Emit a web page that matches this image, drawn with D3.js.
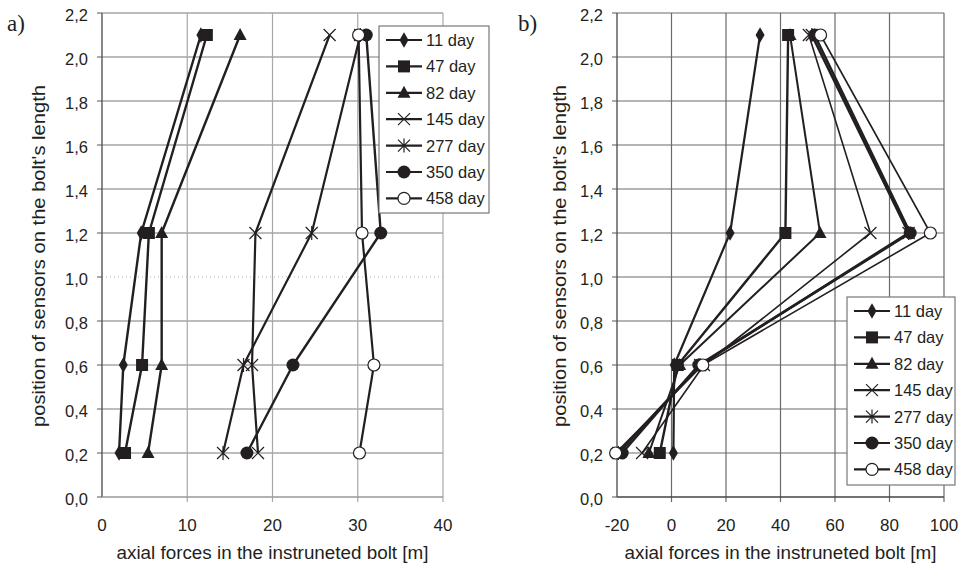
<!DOCTYPE html>
<html>
<head>
<meta charset="utf-8">
<script src="https://cdn.jsdelivr.net/npm/d3@7"></script>
<style>
  body { margin: 0; background: #fff; }
  svg { display: block; }
  text { font-family: "Liberation Sans", Arial, sans-serif; fill: #231f20; }
</style>
</head>
<body>
<script>
// sensor positions along the bolt
var positions = [2.1, 1.2, 0.6, 0.2];
var days = ["11 day", "47 day", "82 day", "145 day", "277 day", "350 day", "458 day"];
var markers = ["diamond", "square", "triangle", "x", "star", "circle", "open"];

// chart a) axial forces, one row per day, in order of positions
var seriesA = [
  [11.6, 4.6, 2.5, 2.0],
  [12.3, 5.5, 4.7, 2.7],
  [16.2, 7.0, 7.0, 5.4],
  [26.7, 18.0, 17.6, 18.3],
  [30.3, 24.6, 16.6, 14.2],
  [31.0, 32.7, 22.4, 17.0],
  [30.1, 30.5, 31.9, 30.2]
];

// chart b)
var seriesB = [
  [32.5, 21.5, 1.0, 0.7],
  [42.8, 41.8, 2.3, -4.3],
  [43.5, 54.5, 3.0, -8.3],
  [50.4, 73.0, 11.9, -10.8],
  [51.5, 87.0, 10.5, -19.5],
  [52.5, 87.6, 10.0, -18.1],
  [54.7, 95.0, 11.5, -20.5]
];

var yTicks = [0, 0.2, 0.4, 0.6, 0.8, 1.0, 1.2, 1.4, 1.6, 1.8, 2.0, 2.2];
var xTicksA = [0, 10, 20, 30, 40];
var xTicksB = [-20, 0, 20, 40, 60, 80, 100];

var ink = "#231f20";
var W = 967, H = 567;

var svg = d3.select("body").append("svg")
    .attr("width", W)
    .attr("height", H);

var y = d3.scaleLinear().domain([0, 2.2]).range([497, 13]);
var fmt = function(v) { return d3.format(".1f")(v).replace(".", ","); };

// draw one marker at (0,0) inside g
function drawMarker(g, type) {
  if (type == "diamond") {
    g.append("path").attr("d", d3.symbol(d3.symbolDiamond, 70)()).attr("fill", ink);
  } else if (type == "square") {
    g.append("rect").attr("x", -6).attr("y", -6).attr("width", 12).attr("height", 12).attr("fill", ink);
  } else if (type == "triangle") {
    g.append("path").attr("d", "M0,-7L6.5,5L-6.5,5Z").attr("fill", ink);
  } else if (type == "x") {
    g.append("path").attr("d", "M-6,-6L6,6M-6,6L6,-6").attr("stroke", ink).attr("stroke-width", 1.2);
  } else if (type == "star") {
    g.append("path").attr("d", "M-6,-6L6,6M-6,6L6,-6M0,-7L0,7").attr("stroke", ink).attr("stroke-width", 1.2);
  } else if (type == "circle") {
    g.append("circle").attr("r", 6.5).attr("fill", ink);
  } else {
    g.append("circle").attr("r", 6).attr("fill", "#fff").attr("stroke", ink).attr("stroke-width", 1.2);
  }
}

function chart(opts) {
  var x = opts.x;
  var x0 = x.range()[0], x1 = x.range()[1];
  var g = svg.append("g");

  // horizontal gridlines
  g.selectAll(".hgrid")
    .data(yTicks.filter(function(d) { return d > 0; }))
    .enter().append("line")
    .attr("x1", x0).attr("x2", x1)
    .attr("y1", function(d) { return y(d); })
    .attr("y2", function(d) { return y(d); })
    .attr("stroke", function(d) { return (opts.dotted && Math.abs(d - 1) < 1e-6) ? "#b0b0b0" : opts.hColor; })
    .attr("stroke-dasharray", function(d) { return (opts.dotted && Math.abs(d - 1) < 1e-6) ? "1,3" : null; })
    .attr("stroke-width", 1.2);

  // vertical gridlines
  g.selectAll(".vgrid")
    .data(opts.xTicks.slice(1))
    .enter().append("line")
    .attr("x1", function(d) { return x(d); })
    .attr("x2", function(d) { return x(d); })
    .attr("y1", y(2.2)).attr("y2", y(0) + 5)
    .attr("stroke", opts.vColor)
    .attr("stroke-width", 1.2);

  // axes
  g.append("line").attr("x1", x0).attr("x2", x0).attr("y1", y(2.2)).attr("y2", y(0))
    .attr("stroke", "#555").attr("stroke-width", 1.4);
  g.append("line").attr("x1", x0).attr("x2", x1).attr("y1", y(0)).attr("y2", y(0))
    .attr("stroke", opts.bottomColor).attr("stroke-width", 1.4);

  // y ticks + labels
  g.selectAll(".ytick")
    .data(yTicks)
    .enter().append("line")
    .attr("x1", x0 - 5).attr("x2", x0)
    .attr("y1", function(d) { return y(d); })
    .attr("y2", function(d) { return y(d); })
    .attr("stroke", "#555");

  g.selectAll(".ylab")
    .data(yTicks)
    .enter().append("text")
    .attr("x", x0 - 14)
    .attr("y", function(d) { return y(d) + 8; })
    .attr("text-anchor", "end")
    .attr("font-size", 16.5)
    .text(fmt);

  g.selectAll(".xlab")
    .data(opts.xTicks)
    .enter().append("text")
    .attr("x", function(d) { return x(d); })
    .attr("y", 531)
    .attr("text-anchor", "middle")
    .attr("font-size", 17)
    .text(function(d) { return d; });

  g.append("text")
    .attr("x", (x0 + x1) / 2)
    .attr("y", 559)
    .attr("text-anchor", "middle")
    .attr("font-size", 17.5)
    .attr("textLength", 312)
    .attr("lengthAdjust", "spacingAndGlyphs")
    .text("axial forces in the instruneted bolt [m]");

  g.append("text")
    .attr("transform", "translate(" + opts.yLabelX + "," + 256 + ") rotate(-90)")
    .attr("text-anchor", "middle")
    .attr("font-size", 18)
    .attr("textLength", 342)
    .attr("lengthAdjust", "spacingAndGlyphs")
    .text("position of sensors on the bolt's length");

  g.append("text")
    .attr("x", opts.letterX).attr("y", 31)
    .style("font-family", "'Liberation Serif', 'Times New Roman', serif")
    .attr("font-size", 23)
    .text(opts.letter);

  // series
  var line = d3.line()
    .x(function(d) { return x(d[0]); })
    .y(function(d) { return y(d[1]); });

  opts.data.forEach(function(vals, i) {
    var pts = vals.map(function(v, j) { return [v, positions[j]]; });
    g.append("path")
      .attr("d", line(pts))
      .attr("fill", "none")
      .attr("stroke", ink)
      .attr("stroke-width", opts.widths[i])
      .attr("stroke-linejoin", "round");
    pts.forEach(function(p) {
      var m = g.append("g").attr("transform", "translate(" + x(p[0]) + "," + y(p[1]) + ")");
      drawMarker(m, markers[i]);
    });
  });

  // legend
  var L = opts.legend;
  g.append("rect")
    .attr("x", L.x).attr("y", L.y)
    .attr("width", L.w).attr("height", L.h)
    .attr("fill", "#fff")
    .attr("stroke", "#777")
    .attr("stroke-width", 1.2);

  var item = g.selectAll(".legend")
    .data(days)
    .enter().append("g")
    .attr("transform", function(d, i) { return "translate(" + (L.x + 7) + "," + (L.y + 14 + i * L.step) + ")"; });

  item.append("line")
    .attr("x1", 0).attr("x2", 36)
    .attr("stroke", ink).attr("stroke-width", 2.2);

  item.each(function(d, i) {
    var m = d3.select(this).append("g").attr("transform", "translate(18,0)");
    drawMarker(m, markers[i]);
  });

  item.append("text")
    .attr("x", 40)
    .attr("y", 6)
    .attr("font-size", 16.5)
    .text(function(d) { return d; });
}

chart({
  x: d3.scaleLinear().domain([0, 40]).range([102, 443]),
  xTicks: xTicksA,
  data: seriesA,
  widths: [2.4, 2.4, 2.4, 2.2, 2.2, 2.4, 2.2],
  hColor: "#7a7a7a",
  vColor: "#a8a8a8",
  bottomColor: "#999",
  dotted: true,
  yLabelX: 45,
  letter: "a)",
  letterX: 7,
  legend: { x: 379, y: 26, w: 110, h: 187, step: 26.4 }
});

chart({
  x: d3.scaleLinear().domain([-20, 100]).range([617, 944]),
  xTicks: xTicksB,
  data: seriesB,
  widths: [2.2, 2.4, 2.0, 1.6, 2.6, 2.6, 1.6],
  hColor: "#6a6a6a",
  vColor: "#6a6a6a",
  bottomColor: "#444",
  dotted: false,
  yLabelX: 566,
  letter: "b)",
  letterX: 518,
  legend: { x: 847, y: 297, w: 108, h: 188, step: 26.4 }
});
</script>
</body>
</html>
